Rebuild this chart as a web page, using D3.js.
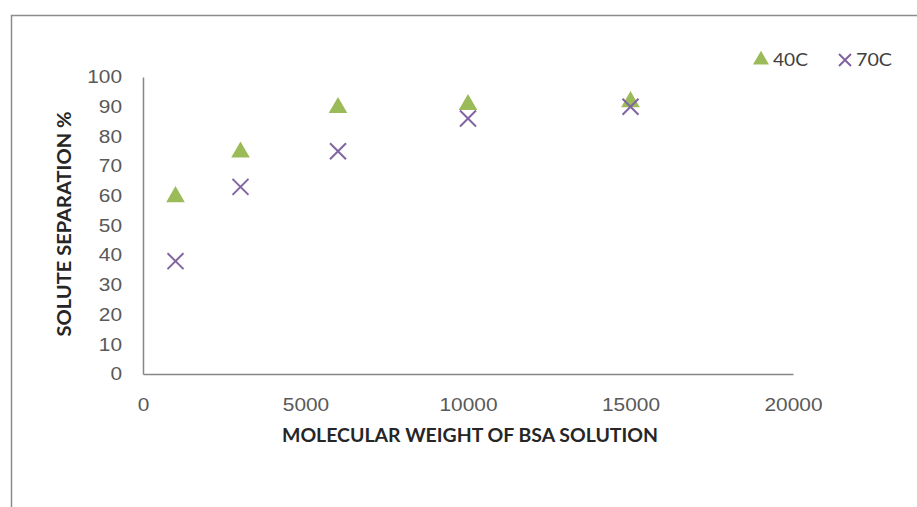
<!DOCTYPE html>
<html>
<head>
<meta charset="utf-8">
<script src="https://cdn.jsdelivr.net/npm/d3@7"></script>
<style>
  body { margin: 0; background: #fff; }
  svg { display: block; font-family: Lato, "Open Sans", sans-serif; }
  .tick text { fill: #595959; font-size: 18px; }
  .titre { font-weight: bold; fill: #262626; font-size: 18px; }
</style>
</head>
<body>
<script>
// données
var masses = [1000, 3000, 6000, 10000, 15000];
var sep40 = [60, 75, 90, 91, 92];
var sep70 = [38, 63, 75, 86, 90];
var xTicks = [0, 5000, 10000, 15000, 20000];
var yTicks = [0, 10, 20, 30, 40, 50, 60, 70, 80, 90, 100];
var series = ["40C", "70C"];

var width = 917, height = 507;
var margin = { left: 143, right: 124, top: 77, bottom: 133 };

var svg = d3.select("body").append("svg")
    .attr("width", width)
    .attr("height", height);

// cadre extérieur
svg.append("rect")
    .attr("x", 11.5).attr("y", 15.5)
    .attr("width", width + 20).attr("height", height + 20)
    .attr("fill", "none")
    .attr("stroke", "#8c8c8c")
    .attr("stroke-width", 1.5);

var x = d3.scaleLinear().domain([0, 20000]).range([margin.left, width - margin.right]);
var y = d3.scaleLinear().domain([0, 100]).range([height - margin.bottom, margin.top]);

// axes
var axeX = svg.append("g")
    .attr("transform", "translate(0," + y(0) + ")")
    .call(d3.axisBottom(x).tickValues(xTicks).tickSize(0).tickPadding(24).tickFormat(d3.format("d")));
var axeY = svg.append("g")
    .attr("transform", "translate(" + x(0) + ",0)")
    .call(d3.axisLeft(y).tickValues(yTicks).tickSize(0).tickPadding(21));

[axeX, axeY].forEach(function (a) {
    a.select(".domain").attr("stroke", "#868686").attr("stroke-width", 1.5);
    a.selectAll(".tick text")
        .attr("font-family", null).attr("font-size", null)
        .attr("textLength", function () { return this.textContent.length * 11.6; })
        .attr("lengthAdjust", "spacingAndGlyphs");
});

// titres des axes
svg.append("text")
    .attr("class", "titre")
    .attr("x", 470).attr("y", 442)
    .attr("text-anchor", "middle")
    .attr("textLength", 376)
    .attr("lengthAdjust", "spacingAndGlyphs")
    .text("MOLECULAR WEIGHT OF BSA SOLUTION");

svg.append("text")
    .attr("class", "titre")
    .attr("transform", "translate(71,224) rotate(-90)")
    .attr("text-anchor", "middle")
    .attr("textLength", 225)
    .attr("lengthAdjust", "spacingAndGlyphs")
    .text("SOLUTE SEPARATION %");

var vert = "#9bbb59", violet = "#8064a2";
var tri = d3.symbol().type(d3.symbolTriangle).size(150);

// série 40C : triangles
svg.append("g").selectAll("path")
    .data(masses)
    .enter().append("path")
    .attr("d", tri)
    .attr("transform", function (d, i) { return "translate(" + x(d) + "," + (y(sep40[i]) + 1) + ")"; })
    .attr("fill", vert);

// série 70C : croix
function croix(g, cx, cy, s) {
    g.append("path")
        .attr("d", "M" + (cx - s) + "," + (cy - s) + "L" + (cx + s) + "," + (cy + s) +
                   "M" + (cx - s) + "," + (cy + s) + "L" + (cx + s) + "," + (cy - s))
        .attr("stroke", violet)
        .attr("stroke-width", 2)
        .attr("fill", "none");
}
var g70 = svg.append("g");
masses.forEach(function (d, i) { croix(g70, x(d), y(sep70[i]), 8); });

// légende
var leg = svg.append("g");
leg.append("path").attr("d", d3.symbol().type(d3.symbolTriangle).size(110))
    .attr("transform", "translate(761,60)").attr("fill", vert);
leg.append("text").attr("x", 773).attr("y", 66).attr("fill", "#404040").attr("font-size", 17)
    .attr("textLength", 35).attr("lengthAdjust", "spacingAndGlyphs").text(series[0]);
croix(leg, 845, 60, 6);
leg.append("text").attr("x", 856).attr("y", 66).attr("fill", "#404040").attr("font-size", 17)
    .attr("textLength", 36).attr("lengthAdjust", "spacingAndGlyphs").text(series[1]);
</script>
</body>
</html>
